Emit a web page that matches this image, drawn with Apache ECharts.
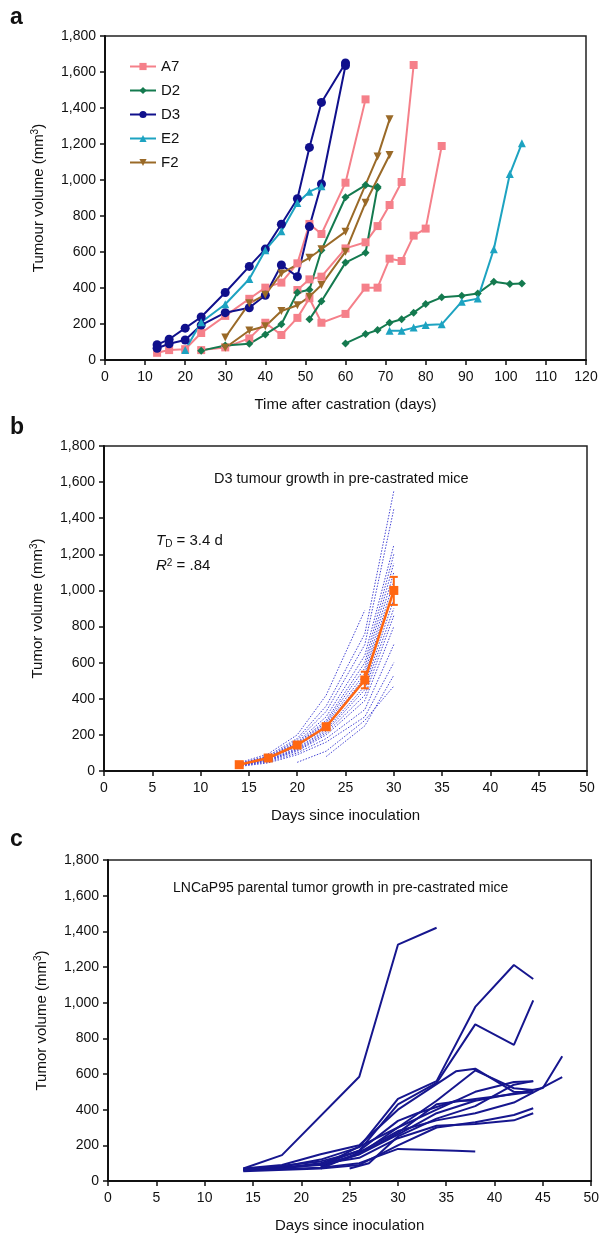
<!DOCTYPE html>
<html><head><meta charset="utf-8">
<script src="https://cdn.jsdelivr.net/npm/echarts@6/dist/echarts.min.js"></script>
<style>html,body{margin:0;padding:0;background:#fff}#c{width:602px;height:1234px}</style>
</head><body><div id="c"></div>
<script>
// ---------- Panel a data: [day, volume] ----------
const a7_1 = [[13,40],[16,55],[20,60],[24,150],[30,245],[36,340],[40,402],[44,430],[48,537],[51,756],[54,700],[60,985],[65,1448]];
const a7_2 = [[48,389],[51,448],[54,463],[60,620],[65,654],[68,744],[71,861],[74,989],[77,1639]];
const a7_3 = [[24,55],[30,70],[36,120],[40,207],[44,139],[48,234],[51,343],[54,207],[60,256],[65,402],[68,402],[71,563],[74,550],[77,691],[80,730],[84,1189]];
const d2_1 = [[24,52],[30,80],[36,90],[40,142],[44,199],[48,375],[51,390],[54,610],[60,904],[65,972],[68,955]];
const d2_2 = [[51,226],[54,326],[60,541],[65,596],[68,962]];
const d2_3 = [[60,92],[65,144],[68,167],[71,207],[74,226],[77,263],[80,311],[84,348],[89,357],[93,370],[97,435],[101,422],[104,425]];
const d3_1 = [[13,85],[16,115],[20,177],[24,239],[30,375],[36,520],[40,616],[44,754],[48,896],[51,1181],[54,1431],[60,1650]];
const d3_2 = [[13,65],[16,90],[20,111],[24,194],[30,263],[36,290],[40,360],[44,528],[48,463],[51,741],[54,978],[60,1636]];
const e2_1 = [[20,55],[24,210],[30,310],[36,450],[40,610],[44,715],[48,872],[51,935],[54,965]];
const e2_2 = [[71,163],[74,163],[77,180],[80,194],[84,198],[89,324],[93,341],[97,615],[101,1033],[104,1204]];
const f2_1 = [[30,125],[36,315],[40,363],[44,481],[51,568],[54,615],[60,713],[68,1130],[71,1337]];
const f2_2 = [[30,68],[36,164],[40,188],[44,272],[48,304],[51,352],[54,417],[60,602],[65,874],[71,1139]];
const groupNames = ['A7','D2','D3','E2','F2'];

// ---------- Panel b data ----------
const bDays = [14,17,20,23,27,30];
const bMean = [35,72,144,245,504,1000];
const bErr = [[23,228,262],[27,458,550],[30,920,1075]]; // [day, low, high]
const bMice = [
  [[14,45],[17,95],[20,200],[23,420],[27,890]],
  [[14,40],[17,85],[20,180],[23,360],[27,760],[30,1550]],
  [[14,42],[17,80],[20,170],[23,330],[27,700],[30,1450]],
  [[14,38],[17,78],[20,160],[23,300],[27,640],[30,1250]],
  [[14,40],[17,75],[20,155],[23,280],[27,600],[30,1200]],
  [[14,36],[17,72],[20,150],[23,270],[27,570],[30,1150]],
  [[14,35],[17,70],[20,145],[23,260],[27,540],[30,1100]],
  [[14,34],[17,68],[20,140],[23,250],[27,520],[30,1050]],
  [[14,33],[17,66],[20,135],[23,240],[27,500],[30,1000]],
  [[14,32],[17,62],[20,125],[23,230],[27,470],[30,950]],
  [[14,30],[17,60],[20,120],[23,220],[27,450],[30,900]],
  [[14,30],[17,58],[20,115],[23,210],[27,420],[30,860]],
  [[14,28],[17,55],[20,110],[23,200],[27,390],[30,800]],
  [[14,28],[17,50],[20,100],[23,180],[27,340],[30,700]],
  [[14,25],[17,45],[20,90],[23,160],[27,300],[30,600]],
  [[20,48],[23,110],[27,280],[30,470]],
  [[23,80],[27,250],[30,530]]
];

// ---------- Panel c data ----------
const cMice = [
  [[14,70],[18,145],[26,585],[30,1325],[34,1420]],
  [[14,65],[18,80],[22,120],[26,190],[30,461],[34,560],[38,976],[42,1211],[44,1133]],
  [[14,60],[18,75],[22,100],[26,170],[30,430],[34,550],[38,878],[42,763],[44,1013]],
  [[14,70],[18,90],[22,150],[26,200],[30,400],[36,615],[38,630],[42,500],[44,495]],
  [[22,80],[26,150],[30,300],[34,450],[38,620],[42,520],[44,510]],
  [[25,70],[27,100],[30,250],[34,350],[38,420],[42,540],[44,560]],
  [[14,60],[22,90],[26,150],[30,260],[34,380],[38,450],[45,522],[47,700]],
  [[22,70],[26,160],[30,280],[34,340],[38,380],[42,440],[47,582]],
  [[14,55],[22,70],[26,90],[30,200],[34,300],[38,330],[42,370],[44,408]],
  [[14,65],[18,70],[22,95],[26,130],[30,240],[34,310],[38,320],[42,340],[44,380]],
  [[14,60],[22,75],[26,100],[30,180],[36,170],[38,165]],
  [[22,90],[26,170],[30,337],[32,380],[36,450],[38,450]],
  [[22,85],[26,193],[30,300],[34,400],[38,500],[42,555],[44,560]],
  [[14,62],[18,85],[22,110],[27,180],[30,270],[34,430],[38,460],[44,500]]
];

// ---------- styles ----------
const FONT = 'Liberation Sans, Arial, sans-serif';
const cA7='#F5808A', cD2='#147A4F', cD3='#10108C', cE2='#1DA3C1', cF2='#9A6A28';
const cOrange='#FF6712', cDot='#4545D6', cNavy='#16168E';
const fmt = v => String(v).replace(/\B(?=(\d{3})+(?!\d))/g, ',');
const downTri = 'path://M0,0 L10,0 L5,9 Z';

function xAx(grid, max, interval, name){
  return {type:'value', gridIndex:grid, min:0, max:max, interval:interval,
    name:name, nameLocation:'middle', nameGap:37,
    nameTextStyle:{fontFamily:FONT, fontSize:15, color:'#111'},
    axisLine:{show:true, onZero:false, lineStyle:{color:'#111', width:2}},
    axisTick:{show:true, length:5, lineStyle:{color:'#111', width:1.5}},
    axisLabel:{fontFamily:FONT, fontSize:14, color:'#111', margin:10},
    splitLine:{show:false}};
}
function yAx(grid, name){
  return {type:'value', gridIndex:grid, min:0, max:1800, interval:200,
    name:name, nameLocation:'middle', nameGap:58, nameRotate:90,
    nameTextStyle:{fontFamily:FONT, fontSize:15, color:'#111',
      rich:{sup:{fontFamily:FONT, fontSize:10, color:'#111', verticalAlign:'top', padding:[0,0,7,0]}}},
    axisLine:{show:true, onZero:false, lineStyle:{color:'#111', width:2}},
    axisTick:{show:true, length:5, lineStyle:{color:'#111', width:1.5}},
    axisLabel:{fontFamily:FONT, fontSize:14, color:'#111', margin:9, formatter:fmt},
    splitLine:{show:false}};
}
function lineA(name, data, color, symbol, size){
  return {type:'line', name:name, xAxisIndex:0, yAxisIndex:0, data:data,
    symbol:symbol, symbolSize:size, showSymbol:true,
    lineStyle:{color:color, width:2}, itemStyle:{color:color}, emphasis:{disabled:true}, z:3};
}

const series = [
  lineA('A7', a7_1, cA7, 'rect', 8), lineA('A7', a7_2, cA7, 'rect', 8), lineA('A7', a7_3, cA7, 'rect', 8),
  lineA('D2', d2_1, cD2, 'diamond', 8), lineA('D2', d2_2, cD2, 'diamond', 8), lineA('D2', d2_3, cD2, 'diamond', 8),
  lineA('D3', d3_1, cD3, 'circle', 9), lineA('D3', d3_2, cD3, 'circle', 9),
  lineA('E2', e2_1, cE2, 'triangle', 8), lineA('E2', e2_2, cE2, 'triangle', 8),
  lineA('F2', f2_1, cF2, downTri, 8), lineA('F2', f2_2, cF2, downTri, 8)
];
bMice.forEach(m => series.push({type:'line', xAxisIndex:1, yAxisIndex:1, data:m, symbol:'none',
  lineStyle:{color:cDot, width:1, type:[1.5,1.5]}, emphasis:{disabled:true}, z:2, silent:true}));
series.push({type:'line', xAxisIndex:1, yAxisIndex:1, data:bDays.map((d,i)=>[d,bMean[i]]),
  symbol:'rect', symbolSize:9, lineStyle:{color:cOrange, width:2.5}, itemStyle:{color:cOrange}, z:5, emphasis:{disabled:true}});
series.push({type:'custom', xAxisIndex:1, yAxisIndex:1, data:bErr, z:6, encode:{x:0, y:[1,2]},
  renderItem:function(params, api){
    const x=api.value(0), p1=api.coord([x,api.value(1)]), p2=api.coord([x,api.value(2)]), w=4;
    const st={stroke:cOrange, lineWidth:2};
    return {type:'group', children:[
      {type:'line', shape:{x1:p1[0],y1:p1[1],x2:p2[0],y2:p2[1]}, style:st},
      {type:'line', shape:{x1:p1[0]-w,y1:p1[1],x2:p1[0]+w,y2:p1[1]}, style:st},
      {type:'line', shape:{x1:p2[0]-w,y1:p2[1],x2:p2[0]+w,y2:p2[1]}, style:st}]};
  }});
cMice.forEach(m => series.push({type:'line', xAxisIndex:2, yAxisIndex:2, data:m, symbol:'none',
  lineStyle:{color:cNavy, width:2}, emphasis:{disabled:true}, z:2, silent:true}));

const gridBox = {show:true, borderColor:'#222', borderWidth:1.5, backgroundColor:'transparent', containLabel:false};
const option = {
  animation:false,
  backgroundColor:'#fff',
  grid:[
    Object.assign({left:105, top:36, width:481, height:324}, gridBox),
    Object.assign({left:104, top:446, width:483, height:325}, gridBox),
    Object.assign({left:108, top:860, width:484, height:324}, gridBox)
  ],
  xAxis:[xAx(0,120,10,'Time after castration (days)'), xAx(1,50,5,'Days since inoculation'), xAx(2,50,5,'Days since inoculation')],
  yAxis:[yAx(0,'Tumour volume (mm{sup|3})'), yAx(1,'Tumor volume (mm{sup|3})'), yAx(2,'Tumor volume (mm{sup|3})')],
  legend:{data:groupNames, orient:'vertical', left:124, top:54, itemGap:9, itemWidth:26, itemHeight:9,
    textStyle:{fontFamily:FONT, fontSize:15, color:'#111'}, selectedMode:false},
  graphic:[
    {type:'text', left:10, top:6, style:{text:'a', font:'bold 23px '+FONT, fill:'#111'}},
    {type:'text', left:10, top:416, style:{text:'b', font:'bold 23px '+FONT, fill:'#111'}},
    {type:'text', left:10, top:828, style:{text:'c', font:'bold 23px '+FONT, fill:'#111'}},
    {type:'text', left:214, top:471, style:{text:'D3 tumour growth in pre-castrated mice', font:'14.5px '+FONT, fill:'#111'}},
    {type:'text', left:156, top:533, style:{text:'{i|T}{s|D} = 3.4 d', font:'15px '+FONT, fill:'#111',
      rich:{i:{fontStyle:'italic', fontSize:15, fontFamily:FONT}, s:{fontSize:10, fontFamily:FONT, verticalAlign:'bottom', padding:[7,0,0,0]}}}},
    {type:'text', left:156, top:558, style:{text:'{i|R}{p|2} = .84', font:'15px '+FONT, fill:'#111',
      rich:{i:{fontStyle:'italic', fontSize:15, fontFamily:FONT}, p:{fontSize:10, fontFamily:FONT, verticalAlign:'top', padding:[0,0,6,0]}}}},
    {type:'text', left:173, top:881, style:{text:'LNCaP95 parental tumor growth in pre-castrated mice', font:'14px '+FONT, fill:'#111'}}
  ],
  series:series
};
const chart = echarts.init(document.getElementById('c'), null, {renderer:'canvas'});
chart.setOption(option);
</script></body></html>
